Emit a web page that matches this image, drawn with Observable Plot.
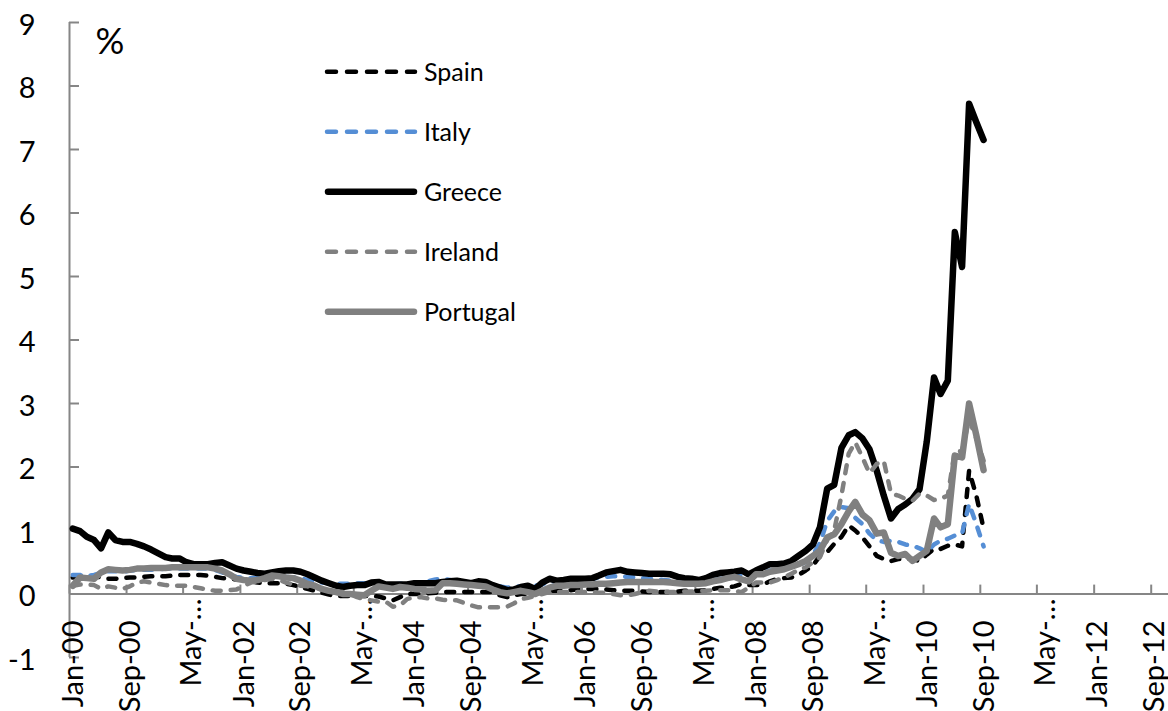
<!DOCTYPE html>
<html><head><meta charset="utf-8">
<script src="https://cdn.jsdelivr.net/npm/d3@7"></script>
<script src="https://cdn.jsdelivr.net/npm/@observablehq/plot@0.6"></script>
<style>
html,body{margin:0;padding:0;background:#fff;}
#wrap{position:relative;width:1168px;height:711px;overflow:hidden;font-family:Lato,sans-serif;}
</style></head>
<body><div id="wrap"></div>
<script>
// ---- data (monthly, Jan-2000 .. Sep-2010, %) ----
const seriesNames = ["Spain", "Italy", "Greece", "Ireland", "Portugal"];
const startYear = 2000;

const spain = [
 0.26,0.28,0.28,0.28,0.26,0.24,0.24,0.25,0.26,0.26,
 0.27,0.28,0.28,0.28,0.29,0.30,0.30,0.30,0.30,0.29,
 0.27,0.25,0.24,0.23,0.22,0.20,0.18,0.17,0.17,0.17,
 0.16,0.14,0.11,0.08,0.05,0.02,-0.01,-0.03,-0.03,-0.03,
 -0.03,-0.03,-0.03,-0.04,-0.07,-0.10,-0.05,0.00,0.00,0.00,
 0.01,0.02,0.03,0.03,0.03,0.03,0.03,0.03,0.03,0.03,
 -0.02,-0.05,-0.02,0.00,0.00,0.00,0.03,0.05,0.05,0.05,
 0.06,0.08,0.08,0.08,0.08,0.07,0.06,0.05,0.05,0.05,
 0.04,0.03,0.03,0.03,0.03,0.04,0.05,0.05,0.05,0.06,
 0.08,0.10,0.10,0.12,0.16,0.14,0.14,0.15,0.20,0.24,
 0.25,0.26,0.30,0.37,0.45,0.60,0.66,0.79,0.90,1.08,
 1.00,0.89,0.75,0.60,0.55,0.52,0.55,0.55,0.55,0.52,
 0.62,0.71,0.71,0.76,0.78,0.75,1.94,1.55,1.03
];
const italy = [
 0.30,0.30,0.28,0.30,0.33,0.36,0.36,0.35,0.37,0.38,
 0.38,0.38,0.39,0.40,0.40,0.40,0.40,0.40,0.40,0.40,
 0.38,0.34,0.30,0.27,0.25,0.25,0.26,0.27,0.28,0.28,
 0.27,0.26,0.25,0.22,0.20,0.18,0.17,0.16,0.16,0.16,
 0.17,0.17,0.17,0.16,0.15,0.15,0.16,0.16,0.17,0.18,
 0.20,0.23,0.24,0.22,0.20,0.19,0.18,0.18,0.17,0.15,
 0.12,0.10,0.11,0.12,0.13,0.13,0.15,0.20,0.19,0.20,
 0.21,0.22,0.23,0.24,0.26,0.27,0.28,0.28,0.27,0.26,
 0.25,0.24,0.23,0.22,0.21,0.20,0.19,0.19,0.18,0.19,
 0.22,0.24,0.26,0.28,0.30,0.30,0.32,0.35,0.37,0.37,
 0.40,0.44,0.46,0.50,0.62,0.80,1.15,1.30,1.37,1.35,
 1.20,1.10,0.95,0.85,0.82,0.84,0.82,0.78,0.76,0.72,
 0.66,0.78,0.84,0.87,0.92,0.95,1.42,1.10,0.75
];
const greece = [
 1.03,0.99,0.90,0.85,0.72,0.97,0.85,0.82,0.82,0.79,
 0.75,0.70,0.64,0.58,0.56,0.56,0.50,0.47,0.47,0.47,
 0.49,0.50,0.45,0.40,0.37,0.35,0.33,0.32,0.34,0.36,
 0.37,0.37,0.35,0.31,0.26,0.21,0.17,0.13,0.11,0.13,
 0.14,0.14,0.18,0.19,0.15,0.15,0.15,0.15,0.17,0.17,
 0.17,0.17,0.19,0.20,0.21,0.19,0.17,0.20,0.19,0.14,
 0.10,0.06,0.07,0.11,0.13,0.08,0.18,0.24,0.21,0.22,
 0.24,0.24,0.24,0.25,0.29,0.34,0.36,0.38,0.35,0.34,
 0.33,0.32,0.32,0.32,0.31,0.27,0.25,0.24,0.22,0.25,
 0.30,0.33,0.34,0.35,0.37,0.31,0.37,0.42,0.47,0.47,
 0.48,0.52,0.60,0.68,0.78,1.05,1.66,1.72,2.30,2.50,
 2.55,2.45,2.28,1.94,1.55,1.19,1.34,1.41,1.50,1.65,
 2.40,3.41,3.15,3.36,5.70,5.15,7.72,7.43,7.15
];
const ireland = [
 0.13,0.15,0.15,0.14,0.08,0.12,0.10,0.08,0.12,0.18,
 0.20,0.18,0.16,0.14,0.13,0.13,0.13,0.11,0.09,0.07,
 0.05,0.05,0.06,0.07,0.13,0.18,0.20,0.22,0.24,0.22,
 0.18,0.15,0.13,0.12,0.10,0.08,0.05,0.04,0.03,0.00,
 -0.05,-0.08,-0.10,-0.12,-0.12,-0.20,-0.18,-0.08,-0.05,-0.05,
 -0.07,-0.07,-0.09,-0.10,-0.10,-0.14,-0.18,-0.21,-0.21,-0.21,
 -0.21,-0.20,-0.15,-0.08,-0.06,-0.03,0.00,0.03,0.03,0.03,
 0.03,0.03,0.03,0.03,0.02,0.02,0.00,-0.02,-0.02,0.00,
 0.03,0.05,0.04,0.03,0.03,0.03,0.04,0.04,0.05,0.05,
 0.06,0.06,0.06,0.05,0.03,0.10,0.18,0.18,0.18,0.22,
 0.26,0.32,0.38,0.42,0.50,0.58,0.85,1.00,1.55,2.21,
 2.39,2.15,1.90,2.05,2.10,1.58,1.55,1.50,1.47,1.58,
 1.55,1.48,1.50,1.55,2.25,2.25,2.75,2.45,2.10
];
const portugal = [
 0.13,0.26,0.25,0.24,0.34,0.39,0.38,0.37,0.38,0.40,
 0.40,0.41,0.41,0.41,0.42,0.42,0.42,0.42,0.42,0.42,
 0.40,0.37,0.31,0.24,0.22,0.21,0.22,0.25,0.29,0.28,
 0.26,0.25,0.21,0.16,0.13,0.08,0.05,0.03,0.00,0.00,
 -0.01,-0.02,0.05,0.12,0.10,0.08,0.11,0.10,0.08,0.07,
 0.05,0.06,0.17,0.17,0.16,0.15,0.14,0.13,0.12,0.07,
 0.03,0.01,0.03,0.05,0.03,0.00,0.05,0.10,0.13,0.13,
 0.14,0.14,0.15,0.15,0.16,0.16,0.17,0.18,0.19,0.19,
 0.19,0.19,0.19,0.19,0.18,0.17,0.16,0.16,0.16,0.17,
 0.20,0.22,0.25,0.27,0.23,0.20,0.31,0.31,0.35,0.37,
 0.39,0.43,0.47,0.52,0.60,0.68,0.89,0.94,1.10,1.30,
 1.45,1.25,1.16,0.95,0.97,0.65,0.60,0.63,0.52,0.60,
 0.68,1.19,1.05,1.10,2.18,2.15,3.00,2.50,1.95
];

const yTicks = [-1, 0, 1, 2, 3, 4, 5, 6, 7, 8, 9];
const xTickMonths = ["2000-01","2000-09","2001-05","2002-01","2002-09","2003-05","2004-01","2004-09",
  "2005-05","2006-01","2006-09","2007-05","2008-01","2008-09","2009-05","2010-01","2010-09",
  "2011-05","2012-01","2012-09"];
const xTickLabels = ["Jan-00","Sep-00","May-\u2026","Jan-02","Sep-02","May-\u2026","Jan-04","Sep-04",
  "May-\u2026","Jan-06","Sep-06","May-\u2026","Jan-08","Sep-08","May-\u2026","Jan-10","Sep-10",
  "May-\u2026","Jan-12","Sep-12"];
const unitLabel = "%";

// ---- build table ----
const seriesValues = [spain, italy, greece, ireland, portugal];
const seriesStyle = {
  Spain:    {stroke: "#000000", strokeWidth: 4.5, dash: "8,10"},
  Italy:    {stroke: "#558ED5", strokeWidth: 4.5, dash: "8,10"},
  Greece:   {stroke: "#000000", strokeWidth: 6.5, dash: null},
  Ireland:  {stroke: "#808080", strokeWidth: 4.5, dash: "8,10"},
  Portugal: {stroke: "#808080", strokeWidth: 6.5, dash: null}
};
const rows = seriesNames.flatMap((name, s) =>
  seriesValues[s].map((v, i) => ({name, date: new Date(Date.UTC(startYear, i, 15)), value: v})));

const parseMonth = s => { const [y, m] = s.split("-").map(Number); return new Date(Date.UTC(y, m - 1, 1)); };
const tickDates = xTickMonths.map(parseMonth);
const labelOf = new Map(tickDates.map((d, i) => [+d, xTickLabels[i]]));
const mayTicks = tickDates.filter(d => labelOf.get(+d).startsWith("May"));
const otherTicks = tickDates.filter(d => !labelOf.get(+d).startsWith("May"));

const axisGray = "#868686";
const xStart = new Date(Date.UTC(2000, 0, 1));

const chart = Plot.plot({
  width: 1168, height: 711,
  marginLeft: 69, marginRight: 0, marginTop: 22, marginBottom: 54,
  style: {fontFamily: "Lato, sans-serif", color: "#000", background: "transparent", overflow: "visible"},
  x: {type: "utc", domain: [xStart, new Date(Date.UTC(2012, 10, 14))]},
  y: {domain: [-1, 9]},
  marks: [
    Plot.ruleY([0], {stroke: axisGray, strokeWidth: 2}),
    Plot.ruleX([xStart], {stroke: axisGray, strokeWidth: 2}),
    Plot.axisY(yTicks, {anchor: "left", tickSize: -10, fill: null, label: null, stroke: axisGray, strokeWidth: 2}),
    Plot.axisY(yTicks, {anchor: "left", tickSize: 0, tickPadding: 34, fontSize: 29, dy: 3, label: null,
      fill: "#000", tickFormat: d => String(d)}),
    Plot.axisX(tickDates, {anchor: "bottom", tickSize: -9, fill: null, label: null, dy: -63.4, stroke: axisGray, strokeWidth: 2}),
    Plot.axisX(otherTicks, {anchor: "bottom", tickSize: 0, tickPadding: 0, tickRotate: -90, fontSize: 29,
      tickFormat: d => labelOf.get(+d), dy: -37, dx: 4, label: null, fill: "#000"}),
    Plot.axisX(mayTicks, {anchor: "bottom", tickSize: 0, tickPadding: 0, tickRotate: -90, fontSize: 29,
      tickFormat: d => labelOf.get(+d), dy: -59, dx: 9, label: null, fill: "#000"}),
    ...seriesNames.map(name => Plot.lineY(rows.filter(r => r.name === name), {
      x: "date", y: "value",
      stroke: seriesStyle[name].stroke,
      strokeWidth: seriesStyle[name].strokeWidth,
      strokeDasharray: seriesStyle[name].dash,
      strokeLinecap: "round", strokeLinejoin: "round"
    })),
    Plot.text([unitLabel], {frameAnchor: "top-left", text: d => d, dx: 26, dy: 20,
      textAnchor: "start", lineAnchor: "middle", fontSize: 36, fill: "#000"})
  ]
});
const wrap = document.getElementById("wrap");
chart.style.position = "absolute"; chart.style.left = "0px"; chart.style.top = "0px";
wrap.appendChild(chart);

// ---- legend ----
const leg = d3.select(wrap).append("svg")
  .attr("width", 1168).attr("height", 711)
  .style("position", "absolute").style("left", "0px").style("top", "0px")
  .style("font-family", "Lato, sans-serif");
seriesNames.forEach((name, i) => {
  const st = seriesStyle[name];
  const y = 71.7 + i * 60;
  const pad = st.dash ? 2 : 3;
  leg.append("line")
    .attr("x1", 325 + pad).attr("x2", 417 - pad).attr("y1", y).attr("y2", y)
    .attr("stroke", st.stroke).attr("stroke-width", st.strokeWidth)
    .attr("stroke-linecap", "round")
    .attr("stroke-dasharray", st.dash ? "9,11" : null);
  leg.append("text").attr("x", 424).attr("y", y + 9)
    .attr("font-size", 25).attr("fill", "#000").text(name);
});
</script>
</body></html>
